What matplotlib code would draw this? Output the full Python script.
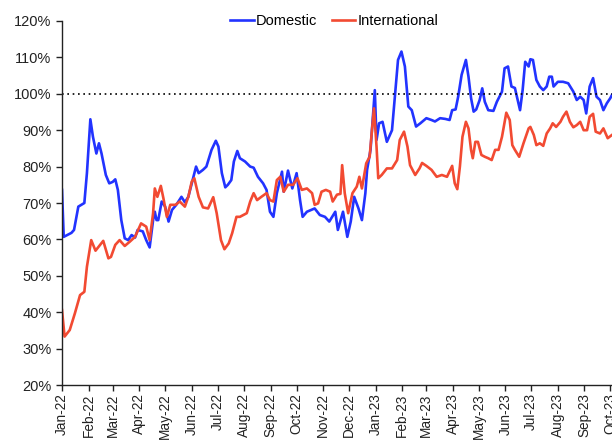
import pandas as pd
import matplotlib
matplotlib.use("Agg")
from matplotlib import pyplot as plt
import matplotlib.dates as mdates
from matplotlib.ticker import FuncFormatter

plt.rcParams['font.family'] = ['Liberation Sans', 'DejaVu Sans']

start = pd.Timestamp('2022-01-01')

# days after 1 Jan 2022, values in %
dom_days = [0, 2, 11, 14, 19, 24, 26, 29, 33, 36, 40, 43, 46, 51, 55, 59, 62, 65,
            69, 73, 77, 81, 85, 88, 94, 98, 102, 106, 108, 110, 112, 116, 120, 124,
            128, 133, 139, 143, 147, 151, 156, 159, 164, 168, 174, 179, 182, 186,
            190, 193, 197, 200, 204, 207, 213, 219, 223, 228, 234, 238, 242, 246,
            250, 256, 258, 263, 268, 273, 277, 280, 285, 290, 294, 300, 306, 311,
            318, 321, 327, 332, 336, 340, 345, 349, 353, 355, 359, 361, 364, 366,
            369, 373, 378, 384, 387, 391, 395, 399, 403, 407, 412, 417, 424, 430,
            434, 440, 446, 451, 454, 458, 461, 465, 470, 473, 476, 479, 482, 486,
            489, 492, 496, 502, 506, 512, 515, 519, 523, 527, 533, 536, 539, 543,
            545, 548, 552, 556, 560, 564, 567, 570, 572, 577, 583, 589, 595, 599,
            603, 607, 610, 614, 618, 622, 626, 630, 634, 638, 640]
dom_vals = [73.6, 60.7, 61.8, 62.6, 69.0, 69.7, 70.0, 78.2, 93.0, 88.2, 83.6, 86.4,
            83.6, 77.7, 75.4, 75.8, 76.5, 73.6, 65.3, 60.3, 59.8, 61.2, 60.5, 62.6,
            62.2, 59.8, 57.8, 65.3, 67.6, 65.3, 65.3, 70.4, 69.0, 64.9, 68.1, 69.5,
            71.7, 70.2, 71.7, 75.4, 80.0, 78.2, 79.1, 80.0, 84.6, 87.1, 85.5, 78.2,
            74.3, 75.0, 76.3, 81.4, 84.3, 82.3, 81.4, 80.0, 79.7, 77.2, 75.4, 73.6,
            67.6, 66.2, 72.7, 78.6, 73.1, 78.9, 74.0, 78.2, 70.8, 66.2, 67.6, 68.1,
            68.5, 66.7, 66.2, 64.9, 67.6, 62.6, 67.6, 60.7, 64.9, 71.7, 68.5, 65.3,
            72.7, 79.1, 84.6, 91.0, 101.0, 87.3, 91.9, 92.3, 86.8, 90.0, 98.3, 109.3,
            111.6, 107.5, 96.5, 95.5, 91.0, 91.9, 93.3, 92.8, 92.4, 93.3, 93.1, 92.8,
            95.5, 95.7, 99.2, 105.2, 109.3, 104.7, 98.8, 95.1, 95.7, 98.3, 101.5,
            97.8, 95.5, 95.3, 97.8, 100.6, 107.0, 107.5, 102.0, 101.6, 95.5, 101.0,
            108.8, 107.5, 109.5, 109.3, 103.8, 102.0, 101.0, 102.0, 104.7, 104.7,
            102.0, 103.3, 103.3, 102.9, 100.6, 98.3, 99.2, 98.3, 94.6, 102.0, 104.3,
            99.2, 98.3, 95.5, 97.4, 98.8, 99.7]

int_days = [0, 3, 9, 15, 21, 26, 29, 34, 39, 48, 54, 57, 62, 67, 73, 79, 85, 92,
            98, 102, 106, 108, 111, 115, 118, 122, 126, 132, 137, 143, 147, 151,
            154, 159, 164, 170, 176, 180, 185, 189, 194, 198, 203, 207, 215, 219,
            223, 227, 232, 238, 242, 246, 250, 254, 258, 263, 269, 274, 279, 285,
            291, 294, 298, 302, 307, 312, 315, 320, 324, 326, 329, 333, 338, 343,
            346, 349, 354, 358, 360, 363, 366, 368, 372, 378, 384, 390, 393, 398,
            402, 405, 411, 416, 419, 424, 430, 436, 442, 448, 454, 457, 460, 463,
            466, 470, 473, 476, 478, 481, 484, 488, 492, 496, 500, 504, 508, 512,
            517, 521, 524, 527, 532, 537, 543, 545, 549, 552, 556, 560, 564, 568,
            571, 575, 580, 583, 587, 591, 595, 599, 603, 607, 611, 614, 618, 621,
            626, 630, 635, 640]
int_vals = [40.6, 33.3, 35.1, 39.7, 44.7, 45.6, 52.5, 59.8, 56.9, 59.6, 54.8, 55.2,
            58.5, 59.8, 58.2, 59.4, 60.7, 64.4, 63.5, 59.8, 67.2, 74.0, 71.7, 74.7,
            71.3, 66.2, 69.5, 69.5, 70.4, 69.0, 71.7, 75.9, 76.8, 71.7, 68.8, 68.5,
            71.6, 67.2, 59.8, 57.3, 58.9, 61.7, 66.2, 66.2, 67.2, 70.4, 72.7, 70.8,
            71.7, 72.7, 70.8, 70.4, 76.3, 77.2, 73.1, 75.0, 75.0, 76.8, 73.6, 74.0,
            72.7, 69.5, 69.9, 73.1, 73.6, 73.1, 70.4, 72.3, 72.5, 80.4, 72.7, 67.2,
            72.7, 74.5, 77.2, 74.0, 80.9, 82.7, 88.2, 96.0, 85.5, 76.8, 77.7, 79.5,
            79.5, 81.8, 87.3, 89.6, 85.5, 80.4, 77.7, 79.5, 81.0, 80.2, 79.1, 77.2,
            77.7, 77.2, 80.2, 75.4, 73.8, 80.0, 88.2, 92.3, 90.5, 84.6, 82.3, 86.8,
            86.8, 83.2, 82.7, 82.3, 81.8, 84.6, 84.6, 88.2, 94.8, 92.8, 85.9, 84.6,
            82.7, 86.4, 90.5, 90.9, 88.7, 85.9, 86.4, 85.7, 89.1, 90.5, 91.9, 90.9,
            92.3, 93.7, 95.1, 92.3, 90.8, 91.4, 92.3, 90.0, 90.0, 93.7, 94.5, 89.6,
            89.1, 90.5, 87.8, 88.7]

dom_dates = start + pd.to_timedelta(dom_days, unit='D')
int_dates = start + pd.to_timedelta(int_days, unit='D')

fig = plt.figure(figsize=(6.12, 4.4), dpi=100)
ax = fig.add_axes([62 / 612, 55 / 440, 550 / 612, 364 / 440])

ax.plot(dom_dates, dom_vals, color='#2233ff', lw=1.9, label='Domestic')
ax.plot(int_dates, int_vals, color='#f24a32', lw=1.9, label='International')
ax.axhline(100, color='black', ls=(0, (1, 2.2)), lw=1.2)

ax.set_ylim(20, 120)
ax.set_yticks(range(20, 121, 10))
ax.yaxis.set_major_formatter(FuncFormatter(lambda v, p: f'{v:.0f}%'))
ax.set_xlim(start, start + pd.Timedelta(days=640))
ax.xaxis.set_major_locator(mdates.MonthLocator())
ax.xaxis.set_major_formatter(mdates.DateFormatter('%b-%y'))
plt.setp(ax.get_xticklabels(), rotation=90)

for s in ['top', 'right']:
    ax.spines[s].set_visible(False)
for s in ['left', 'bottom']:
    ax.spines[s].set_color('#222222')
    ax.spines[s].set_linewidth(1.0)
ax.tick_params(axis='both', colors='#222222', length=4, width=1)
ax.tick_params(axis='y', labelsize=10.5)
ax.tick_params(axis='x', labelsize=9.8, pad=2)

ax.legend(loc='center', bbox_to_anchor=(0.495, 1.0), ncol=2, frameon=False,
          fontsize=10.5, handlelength=1.6, handletextpad=0.15, columnspacing=1.0)

fig.savefig('out.png', dpi=100)
